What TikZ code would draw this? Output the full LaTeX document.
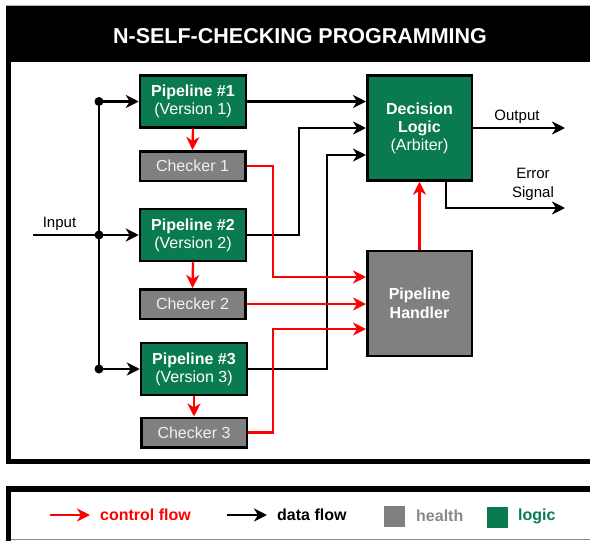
\documentclass[tikz,border=0pt]{standalone}
\usepackage{fontspec}
\setmainfont{Liberation Sans}
\usetikzlibrary{arrows.meta}
\definecolor{logicgreen}{RGB}{10,122,80}
\definecolor{healthgray}{RGB}{128,128,128}
\definecolor{keygray}{RGB}{136,136,136}

\begin{document}
\begin{tikzpicture}[x=1pt,y=-1pt]
	\tikzset{every node/.style={font=\fontsize{16}{18}\selectfont}}
	\tikzset{pipebox/.style={draw=black,line width=2.5pt,fill=logicgreen,text=white,minimum width=106pt,minimum height=52pt,align=center,inner sep=0pt}}
	\tikzset{checkbox/.style={draw=black,line width=2.5pt,fill=healthgray,text=white!94!black,minimum width=105.5pt,minimum height=29.5pt,inner sep=0pt}}
	\tikzset{bigbox/.style={draw=black,line width=2.5pt,minimum width=104.5pt,minimum height=105pt,align=center,text=white,inner sep=0pt}}
	\tikzset{data/.style={draw=black,line width=2.3pt,-{Stealth[length=13pt,width=13pt,inset=4pt]}}}
	\tikzset{ctrl/.style={draw=red,line width=2.3pt,-{Stealth[length=13pt,width=13pt,inset=4pt]}}}
	\tikzset{lbl/.style={font=\fontsize{15}{19}\selectfont,inner sep=0pt}}
	\tikzset{key/.style={font=\fontsize{16}{19}\selectfont\bfseries,inner sep=0pt,anchor=west}}
	\tikzset{keysq/.style={minimum size=21pt,inner sep=0pt}}

	\useasboundingbox (0,0) rectangle (590,541);
	\clip (0,0) rectangle (590,541);
	\draw[black!30,line width=0.8pt] (6,5.4) -- (590,5.4);
	\fill[black] (6,6) rectangle (600,62);
	\draw[line width=5pt] (8.5,30) -- (8.5,461.5) -- (600,461.5);
	\node[text=white,font=\fontsize{21.5}{26}\selectfont\bfseries] (title) at (300,36.5) {N-SELF-CHECKING PROGRAMMING};

	\node[pipebox] (pipe1) at (193,101.5) {\textbf{Pipeline \#1}\\(Version 1)};
	\node[pipebox] (pipe2) at (193,235) {\textbf{Pipeline \#2}\\(Version 2)};
	\node[pipebox] (pipe3) at (194,369) {\textbf{Pipeline \#3}\\(Version 3)};
	\node[checkbox] (check1) at (192.5,166) {Checker 1};
	\node[checkbox] (check2) at (192.5,304) {Checker 2};
	\node[checkbox] (check3) at (194,432.5) {Checker 3};
	\node[bigbox,fill=logicgreen] (decision) at (419.5,128) {\textbf{Decision}\\\textbf{Logic}\\(Arbiter)};
	\node[bigbox,fill=healthgray,font=\fontsize{16}{19}\selectfont\bfseries] (handler) at (419.5,303.5) {Pipeline\\Handler};

	\coordinate (in) at (33,235);
	\coordinate (j1) at (99,101.5);
	\coordinate (j2) at (99,235);
	\coordinate (j3) at (99,369);
	\draw[line width=2.3pt] (j1) -- (j3);
	\draw[data] (in) -- (pipe2.west);
	\draw[data] (j1) -- (pipe1.west);
	\draw[data] (j3) -- (pipe3.west);
	\foreach \j in {j1,j2,j3}
		\fill (\j) circle (4.5pt);
	\node[lbl,anchor=base] (inlbl) at (59.5,227) {Input};

	\coordinate (bend2) at (299,128);
	\coordinate (bend3) at (327,155);
	\draw[data] (pipe1.east) -- (pipe1.east -| decision.west);
	\draw[data] (pipe2.east) -| (bend2) -- (bend2 -| decision.west);
	\draw[data] (pipe3.east) -| (bend3) -- (bend3 -| decision.west);

	\coordinate (out) at (565,128);
	\coordinate (err) at (565,208);
	\draw[data] (decision.east) -- (out);
	\draw[data] ([xshift=26.5pt]decision.south) |- (err);
	\node[lbl,anchor=base] (outlbl) at (517,120) {Output};
	\node[lbl,align=center] (errlbl) at (533,184) {Error\\Signal};

	\foreach \i in {1,2,3}
		\draw[ctrl] (pipe\i.south) -- (check\i.north);
	\coordinate (r1) at (273,277);
	\coordinate (r3) at (273,329);
	\draw[ctrl] (check1.east) -| (r1) -- (r1 -| handler.west);
	\draw[ctrl] (check2.east) -- (check2.east -| handler.west);
	\draw[ctrl] (check3.east) -| (r3) -- (r3 -| handler.west);
	\draw[ctrl] (handler.north) -- (decision.south);

	\draw[line width=5.5pt] (8.5,560) -- (8.5,489) -- (600,489);
	\draw[black!45,line width=1pt] (11,539.5) -- (590,539.5);
	\coordinate (ka) at (50,515);
	\coordinate (kb) at (90,515);
	\coordinate (kc) at (227,515);
	\coordinate (kd) at (267,515);
	\draw[ctrl] (ka) -- (kb);
	\node[key,text=red] (kctrl) at (100,515) {control flow};
	\draw[data] (kc) -- (kd);
	\node[key] (kdata) at (277,515) {data flow};
	\node[keysq,fill=healthgray] (ksq1) at (394.5,516) {};
	\node[key,text=keygray] (khealth) at (416,516) {health};
	\node[keysq,fill=logicgreen] (ksq2) at (497.5,517) {};
	\node[key,text=logicgreen] (klogic) at (518,516) {logic};
\end{tikzpicture}
\end{document}
